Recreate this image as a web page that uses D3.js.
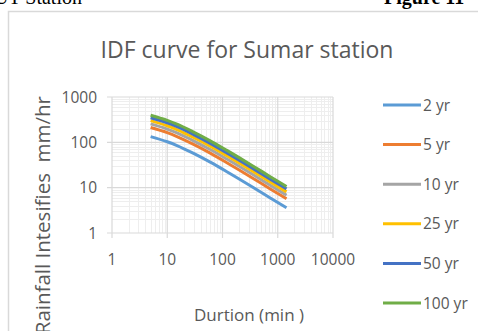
<!DOCTYPE html>
<html>
<head>
<meta charset="utf-8">
<script src="https://cdn.jsdelivr.net/npm/d3@7"></script>
<style>
  html, body { margin: 0; padding: 0; background: #fff; }
  svg { display: block; }
</style>
</head>
<body>
<div id="chart"></div>
<script>
// durations (min) and intensities (mm/hr)
const durations = [5, 10, 15, 30, 60, 120, 360, 720, 1440];
const seriesNames = ['2 yr', '5 yr', '10 yr', '25 yr', '50 yr', '100 yr'];
const seriesColors = ['#5b9bd5', '#ed7d31', '#a5a5a5', '#ffc000', '#4472c4', '#70ad47'];
const yr2 = [134, 103, 85, 57, 36.5, 22.5, 10.1, 6.0, 3.6];
const yr5 = [212, 163, 134, 90, 57.7, 35.5, 16.0, 9.5, 5.7];
const yr10 = [255, 196, 161, 108, 69.4, 42.8, 19.2, 11.4, 6.8];
const yr25 = [302, 232, 191, 128, 82.1, 50.6, 22.7, 13.5, 8.1];
const yr50 = [348, 268, 221, 148, 94.9, 58.5, 26.3, 15.6, 9.4];
const yr100 = [395, 304, 251, 168, 108, 66.4, 29.8, 17.7, 10.6];
const xTickLabels = [1, 10, 100, 1000, 10000];
const yTickLabels = [1, 10, 100, 1000];

(function () {
  const W = 478, H = 331;
  const font = "'Open Sans', 'Noto Sans', sans-serif";
  const textColor = '#595959';

  const svg = d3.select('#chart').append('svg')
    .attr('width', W)
    .attr('height', H);

  // page text around the chart (cut off at the top, as in the scan)
  svg.append('text')
    .attr('x', -6).attr('y', 4)
    .attr('font-family', "'Liberation Serif', serif")
    .attr('font-size', 20)
    .attr('fill', '#000')
    .text('UT Station');
  svg.append('text')
    .attr('x', 384).attr('y', 4)
    .attr('font-family', "'Liberation Serif', serif")
    .attr('font-size', 20)
    .attr('font-weight', 700)
    .attr('fill', '#000')
    .text('Figure 11');

  // chart frame
  svg.append('rect')
    .attr('x', 8.5).attr('y', 11.5)
    .attr('width', 500).attr('height', 400)
    .attr('fill', '#fff')
    .attr('stroke', '#d9d9d9')
    .attr('stroke-width', 1.5);

  svg.append('text')
    .attr('x', 247).attr('y', 58)
    .attr('text-anchor', 'middle')
    .attr('font-family', font)
    .attr('font-size', 23)
    .attr('fill', textColor)
    .text('IDF curve for Sumar station');

  const x = d3.scaleLog().domain([1, 10000]).range([112, 333]);
  const y = d3.scaleLog().domain([1, 1000]).range([233, 97]);

  const grid = svg.append('g');
  const isMajor = v => Math.abs(Math.log10(v) - Math.round(Math.log10(v))) < 1e-9;

  const xt = x.ticks();
  const yt = y.ticks();

  // minor grid first
  grid.selectAll('line.xminor').data(xt.filter(v => !isMajor(v))).enter()
    .append('line')
    .attr('x1', d => Math.round(x(d)) + 0.5).attr('x2', d => Math.round(x(d)) + 0.5)
    .attr('y1', y(1000)).attr('y2', y(1))
    .attr('stroke', '#eeeeee').attr('stroke-width', 1);
  grid.selectAll('line.yminor').data(yt.filter(v => !isMajor(v))).enter()
    .append('line')
    .attr('y1', d => Math.round(y(d)) + 0.5).attr('y2', d => Math.round(y(d)) + 0.5)
    .attr('x1', x(1)).attr('x2', x(10000))
    .attr('stroke', '#eeeeee').attr('stroke-width', 1);
  // major grid
  grid.selectAll('line.xmajor').data(xTickLabels).enter()
    .append('line')
    .attr('x1', d => x(d)).attr('x2', d => x(d))
    .attr('y1', y(1000)).attr('y2', y(1) + 5)
    .attr('stroke', '#d9d9d9').attr('stroke-width', 1.2);
  grid.selectAll('line.ymajor').data(yTickLabels).enter()
    .append('line')
    .attr('y1', d => y(d)).attr('y2', d => y(d))
    .attr('x1', x(1) - 5).attr('x2', x(10000))
    .attr('stroke', '#d9d9d9').attr('stroke-width', 1.2);

  // axis tick labels
  svg.append('g').selectAll('text').data(yTickLabels).enter()
    .append('text')
    .attr('x', 97).attr('y', d => y(d) + 5.5)
    .attr('text-anchor', 'end')
    .attr('font-family', font).attr('font-size', 15.5)
    .attr('fill', textColor)
    .text(d => d);
  svg.append('g').selectAll('text').data(xTickLabels).enter()
    .append('text')
    .attr('x', d => x(d)).attr('y', 265)
    .attr('text-anchor', 'middle')
    .attr('font-family', font).attr('font-size', 15.5)
    .attr('fill', textColor)
    .text(d => d);

  // axis titles
  svg.append('text')
    .attr('x', 249).attr('y', 321)
    .attr('text-anchor', 'middle')
    .attr('font-family', font).attr('font-size', 17)
    .attr('fill', textColor)
    .text('Durtion (min )');
  svg.append('text')
    .attr('transform', 'translate(50,96) rotate(-90)')
    .attr('text-anchor', 'end')
    .attr('font-family', font).attr('font-size', 20.5)
    .attr('fill', textColor)
    .style('white-space', 'pre')
    .text('Rainfall Intesifies  mm/hr');

  // series
  const allSeries = [yr2, yr5, yr10, yr25, yr50, yr100];
  const line = d3.line()
    .x((d, i) => x(durations[i]))
    .y(d => y(d))
    .curve(d3.curveMonotoneX);

  svg.append('g').selectAll('path').data(allSeries).enter()
    .append('path')
    .attr('d', line)
    .attr('fill', 'none')
    .attr('stroke', (d, i) => seriesColors[i])
    .attr('stroke-width', 3)
    .attr('stroke-linejoin', 'round');

  // legend
  const lg = svg.append('g').selectAll('g').data(seriesNames).enter()
    .append('g')
    .attr('transform', (d, i) => `translate(383,${105 + i * 39.6})`);
  lg.append('line')
    .attr('x1', 0).attr('x2', 38)
    .attr('stroke', (d, i) => seriesColors[i])
    .attr('stroke-width', 3);
  lg.append('text')
    .attr('x', 40).attr('y', 5.5)
    .attr('font-family', font).attr('font-size', 15.5)
    .attr('fill', textColor)
    .text(d => d);
})();
</script>
</body>
</html>
